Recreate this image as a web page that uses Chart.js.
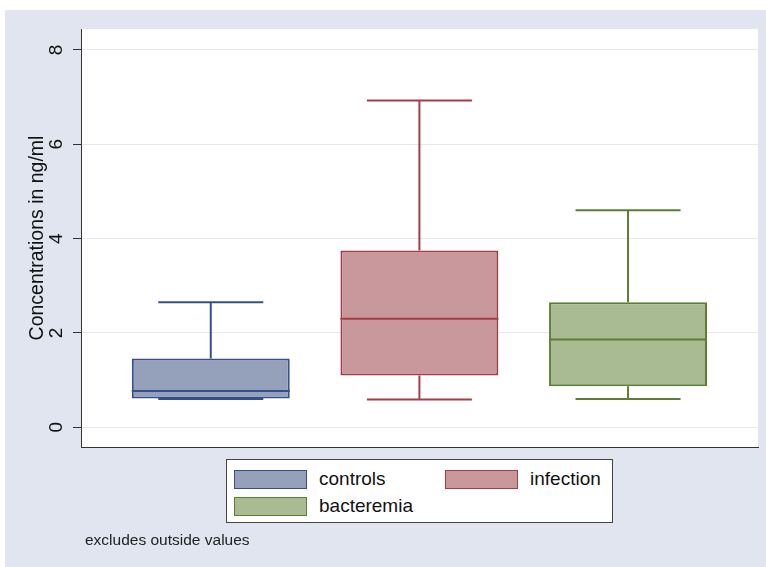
<!DOCTYPE html>
<html>
<head>
<meta charset="utf-8">
<script src="https://cdn.jsdelivr.net/npm/chart.js@4.4.0/dist/chart.umd.min.js"></script>
<style>
  body { margin: 0; background: #fff; font-family: "Liberation Sans", Arial, sans-serif; }
  #frame { position: absolute; left: 5px; top: 10px; width: 761px; height: 557px; background: #e0e5ef; }
  #box { position: absolute; left: 0; top: 0; width: 766px; height: 567px; }
  #legend { position: absolute; left: 226px; top: 459px; width: 385px; height: 62px; background: #fff;
            border: 1px solid #444; box-sizing: content-box; }
  .item { position: absolute; display: flex; align-items: center; font-size: 19px; color: #111; }
  .sw { width: 71px; height: 17px; border: 1.5px solid; margin-right: 12px; }
  #note { position: absolute; left: 85px; top: 531px; font-size: 15.5px; color: #222; }
</style>
</head>
<body>
<div id="frame"></div>
<div id="box"><canvas id="myChart"></canvas></div>
<div id="legend"></div>
<div id="note">excludes outside values</div>
<script>
const groups = ['controls', 'infection', 'bacteremia'];
const groupPos = [1, 2, 3];
const lowAdj = [0.60, 0.59, 0.60];
const q1 = [0.61, 1.10, 0.87];
const median = [0.77, 2.30, 1.86];
const q3 = [1.46, 3.75, 2.65];
const highAdj = [2.65, 6.93, 4.60];
const yTicks = [0, 2, 4, 6, 8];

const fills = ['#95a1bb', '#c8989c', '#a9bb93'];
const lines = ['#34508c', '#a53d49', '#5b7e33'];

const plotBg = {
  id: 'plotBg',
  beforeDraw(chart) {
    const { ctx, chartArea: a } = chart;
    ctx.save();
    ctx.fillStyle = '#fff';
    ctx.fillRect(a.left, a.top, a.right - a.left, a.bottom - a.top);
    ctx.restore();
  },
};

// whiskers, caps and median lines on top of the floating bars
const whiskers = {
  id: 'whiskers',
  afterDatasetsDraw(chart) {
    const { ctx } = chart;
    const y = chart.scales.y;
    chart.data.datasets.forEach((ds, i) => {
      const bar = chart.getDatasetMeta(i).data[0];
      if (!bar) return;
      const k = ds.idx;
      const half = bar.width / 2;
      const cap = half * 0.665;
      ctx.save();
      ctx.strokeStyle = ds.borderColor;
      ctx.lineWidth = 2;
      ctx.beginPath();
      ctx.moveTo(bar.x - half, y.getPixelForValue(median[k]));
      ctx.lineTo(bar.x + half, y.getPixelForValue(median[k]));
      ctx.moveTo(bar.x, y.getPixelForValue(q3[k]));
      ctx.lineTo(bar.x, y.getPixelForValue(highAdj[k]));
      ctx.moveTo(bar.x - cap, y.getPixelForValue(highAdj[k]));
      ctx.lineTo(bar.x + cap, y.getPixelForValue(highAdj[k]));
      ctx.moveTo(bar.x, y.getPixelForValue(q1[k]));
      ctx.lineTo(bar.x, y.getPixelForValue(lowAdj[k]));
      ctx.moveTo(bar.x - cap, y.getPixelForValue(lowAdj[k]));
      ctx.lineTo(bar.x + cap, y.getPixelForValue(lowAdj[k]));
      ctx.stroke();
      ctx.restore();
    });
  },
};

const chart = new Chart(document.getElementById('myChart'), {
  type: 'bar',
  data: {
    datasets: groups.map((g, i) => ({
      label: g,
      idx: i,
      data: [{ x: groupPos[i], y: [q1[i], q3[i]] }],
      backgroundColor: fills[i],
      borderColor: lines[i],
      borderWidth: 2,
      borderSkipped: false,
      grouped: false,
      categoryPercentage: 1,
      barPercentage: 0.757,
    })),
  },
  options: {
    responsive: true,
    maintainAspectRatio: false,
    animation: false,
    layout: { padding: { left: 0, right: 8, top: 29, bottom: 120 } },
    plugins: { legend: { display: false }, tooltip: { enabled: false } },
    scales: {
      x: {
        type: 'linear',
        min: 0.378,
        max: 3.623,
        offset: false,
        afterBuildTicks: (s) => { s.ticks = groupPos.map((v) => ({ value: v })); },
        afterFit: (s) => { s.height = 0; },
        ticks: { display: false },
        grid: { display: false, drawTicks: false },
        border: { display: true, color: '#333', width: 1 },
      },
      y: {
        min: -0.418,
        max: 8.445,
        afterBuildTicks: (s) => { s.ticks = yTicks.map((v) => ({ value: v })); },
        afterFit: (s) => { s.width = 81; },
        grid: { color: '#e3e8f1', tickColor: '#333', tickLength: 8 },
        border: { color: '#333', width: 1 },
        ticks: {
          minRotation: 90,
          maxRotation: 90,
          crossAlign: 'center',
          padding: 11,
          color: '#111',
          font: { size: 19, family: '"Liberation Sans", Arial, sans-serif' },
        },
        title: {
          display: true,
          text: 'Concentrations in ng/ml',
          color: '#111',
          padding: { top: 26, bottom: 0 },
          font: { size: 19.5, family: '"Liberation Sans", Arial, sans-serif' },
        },
      },
    },
  },
  plugins: [plotBg, whiskers],
});

// legend box, two columns
const legend = document.getElementById('legend');
chart.data.datasets.forEach((ds, i) => {
  const item = document.createElement('div');
  item.className = 'item';
  item.style.left = (7 + (i % 2) * 211) + 'px';
  item.style.top = (8 + Math.floor(i / 2) * 27) + 'px';
  item.innerHTML = '<div class="sw" style="background:' + ds.backgroundColor +
    ';border-color:' + ds.borderColor + '"></div><span>' + ds.label + '</span>';
  legend.appendChild(item);
});
</script>
</body>
</html>
